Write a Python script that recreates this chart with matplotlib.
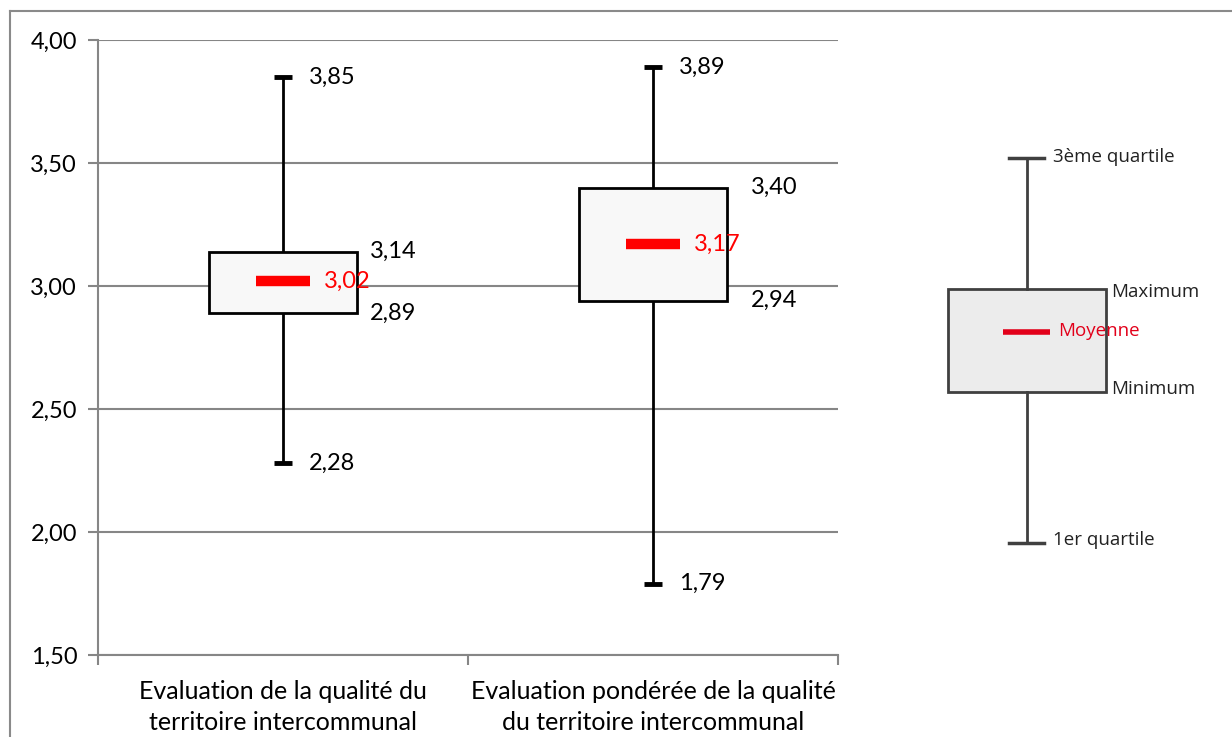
import matplotlib
matplotlib.use("Agg")
import matplotlib.pyplot as plt
from matplotlib.patches import Rectangle
from matplotlib.lines import Line2D

# ---- data ----
categories = ["Evaluation de la qualité du\nterritoire intercommunal",
              "Evaluation pondérée de la qualité\ndu territoire intercommunal"]
box_low = [2.89, 2.94]
box_high = [3.14, 3.40]
whisk_low = [2.28, 1.79]
whisk_high = [3.85, 3.89]
means = [3.02, 3.17]
yticks = [1.50, 2.00, 2.50, 3.00, 3.50, 4.00]
legend_labels = ["3ème quartile", "Maximum", "Moyenne", "Minimum", "1er quartile"]

# ---- layout ----
W, H = 1232, 737
fig = plt.figure(figsize=(W / 100, H / 100), dpi=100)
FONT = ["Lato", "DejaVu Sans"]
LFONT = ["Open Sans", "DejaVu Sans"]

def fx(px):
    return px / W

def fy(py):
    return 1 - py / H

# outer border (top and left visible)
fig.add_artist(Line2D([fx(10), fx(1232)], [fy(11), fy(11)], color="#8a8a8a", lw=1.5))
fig.add_artist(Line2D([fx(10), fx(10)], [fy(11), fy(740)], color="#8a8a8a", lw=1.5))

ax = fig.add_axes([fx(98), fy(655), fx(838) - fx(98), fy(40) - fy(655)])
ax.set_xlim(0.5, 2.5)
ax.set_ylim(1.5, 4.0)
xs = [1, 2]

grid_c = "#868686"
for y in yticks:
    ax.axhline(y, color=grid_c, lw=1.5, zorder=0)
for s in ["top", "right"]:
    ax.spines[s].set_visible(False)
for s in ["left", "bottom"]:
    ax.spines[s].set_color(grid_c)
    ax.spines[s].set_linewidth(1.5)

NUM_FS = 17
ax.set_yticks(yticks)
ax.set_yticklabels([f"{v:.2f}".replace(".", ",") for v in yticks], fontsize=NUM_FS, family=FONT)
ax.tick_params(axis="y", length=7, color=grid_c, width=1.5, pad=8)
ax.set_xticks([0.5, 1.5, 2.5])
ax.set_xticklabels([])
ax.tick_params(axis="x", length=7, color=grid_c, width=1.5)
ax.set_xticks(xs, minor=True)
ax.set_xticklabels(categories, minor=True, fontsize=18, family=FONT, linespacing=1.4)
ax.tick_params(axis="x", which="minor", length=0, pad=18)

box_w = 0.4
cap_w = 0.05
bar_w = 0.146
box_lab_dx = [0.235, 0.265]
fmt = lambda v: f"{v:.2f}".replace(".", ",")
for i, x in enumerate(xs):
    # whisker
    ax.plot([x, x], [whisk_low[i], box_low[i]], color="black", lw=2, zorder=2)
    ax.plot([x, x], [box_high[i], whisk_high[i]], color="black", lw=2, zorder=2)
    ax.plot([x - cap_w / 2, x + cap_w / 2], [whisk_low[i]] * 2, color="black", lw=3.5, zorder=2, solid_capstyle="butt")
    ax.plot([x - cap_w / 2, x + cap_w / 2], [whisk_high[i]] * 2, color="black", lw=3.5, zorder=2, solid_capstyle="butt")
    # box
    ax.add_patch(Rectangle((x - box_w / 2, box_low[i]), box_w, box_high[i] - box_low[i],
                           facecolor="#f8f8f8", edgecolor="black", lw=2, zorder=3))
    # mean
    ax.plot([x - bar_w / 2, x + bar_w / 2], [means[i]] * 2, color="#ff0000", lw=7.5,
            solid_capstyle="butt", zorder=4)
    # labels
    ax.text(x + 0.07, whisk_high[i], fmt(whisk_high[i]), fontsize=NUM_FS, family=FONT, va="center", ha="left")
    ax.text(x + 0.07, whisk_low[i], fmt(whisk_low[i]), fontsize=NUM_FS, family=FONT, va="center", ha="left")
    ax.text(x + box_lab_dx[i], box_high[i], fmt(box_high[i]), fontsize=NUM_FS, family=FONT, va="center", ha="left")
    ax.text(x + box_lab_dx[i], box_low[i], fmt(box_low[i]), fontsize=NUM_FS, family=FONT, va="center", ha="left")
    ax.text(x + 0.11, means[i], fmt(means[i]), fontsize=NUM_FS, family=FONT, va="center", ha="left",
            color="#ff0000", zorder=5)

# ---- explanatory legend graphic (pixel coordinates) ----
lg = fig.add_axes([0, 0, 1, 1], zorder=-1)
lg.set_xlim(0, W)
lg.set_ylim(H, 0)
lg.axis("off")
lc = "#404040"
lg.plot([1027, 1027], [158, 289], color=lc, lw=2)
lg.plot([1027, 1027], [392, 543], color=lc, lw=2)
lg.plot([1009, 1044], [158, 158], color=lc, lw=2.5)
lg.plot([1009, 1044], [543, 543], color=lc, lw=2.5)
lg.add_patch(Rectangle((948, 289), 158, 103, facecolor="#ececec", edgecolor=lc, lw=2))
lg.plot([1003, 1050], [332, 332], color="#e2001a", lw=4, solid_capstyle="butt")
lfs = 13.5
lg.text(1053, 157, legend_labels[0], fontsize=lfs, family=LFONT, va="center", ha="left", color="#222222")
lg.text(1111, 292, legend_labels[1], fontsize=lfs, family=LFONT, va="center", ha="left", color="#222222")
lg.text(1058, 331, legend_labels[2], fontsize=lfs, family=LFONT, va="center", ha="left", color="#e2001a")
lg.text(1111, 389, legend_labels[3], fontsize=lfs, family=LFONT, va="center", ha="left", color="#222222")
lg.text(1053, 540, legend_labels[4], fontsize=lfs, family=LFONT, va="center", ha="left", color="#222222")

fig.savefig("out.png", dpi=100)
